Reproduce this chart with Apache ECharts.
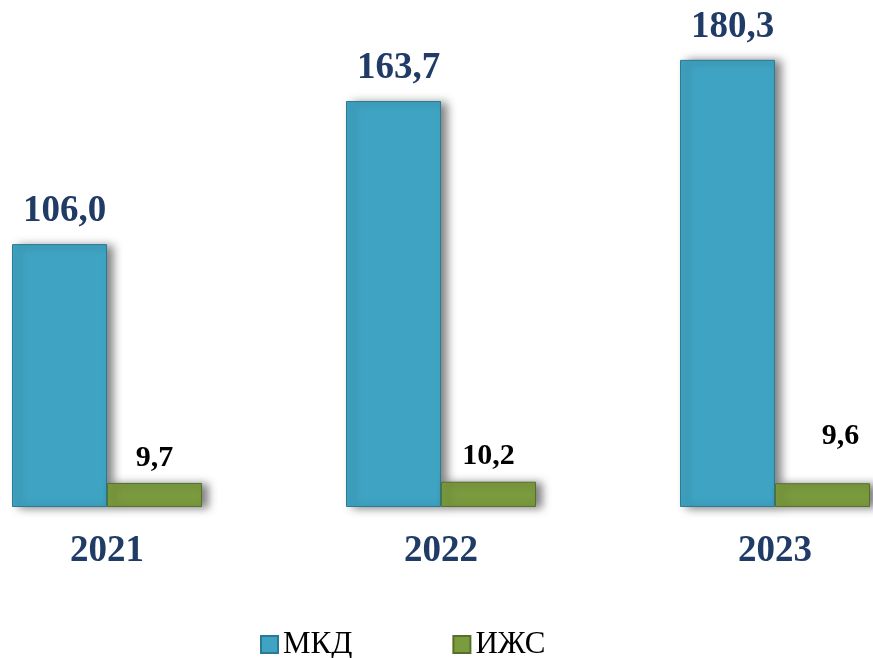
<!DOCTYPE html>
<html>
<head>
<meta charset="utf-8">
<script src="https://cdn.jsdelivr.net/npm/echarts@6/dist/echarts.min.js"></script>
<style>html,body{margin:0;padding:0;background:#fff}#c{width:873px;height:658px}</style>
</head>
<body>
<div id="c"></div>
<script>
const categories = ['2021', '2022', '2023'];
const seriesNames = ['МКД', 'ИЖС'];
const mkdValues = [106.0, 163.7, 180.3];
const izhsValues = [9.7, 10.2, 9.6];

const fmt = p => p.value.toFixed(1).replace('.', ',');
const chart = echarts.init(document.getElementById('c'));
const barShadow = {shadowColor: 'rgba(0,0,0,0.5)', shadowBlur: 9, shadowOffsetX: 6, shadowOffsetY: 1};
chart.setOption({
  animation: false,
  backgroundColor: '#ffffff',
  grid: {left: -60, right: -69, top: 11, bottom: 151, containLabel: false, outerBoundsMode: 'none'},
  legend: {
    data: seriesNames,
    top: 624,
    left: 255,
    icon: 'rect',
    itemWidth: 17, itemHeight: 17, itemGap: 100,
    textStyle: {fontFamily: 'Liberation Serif', fontSize: 31, color: '#000'}
  },
  xAxis: {
    type: 'category', data: categories,
    axisLine: {show: false}, axisTick: {show: false},
    axisLabel: {fontFamily: 'Liberation Serif', fontWeight: 'bold', fontSize: 37, color: '#1F3B66', margin: 26}
  },
  yAxis: {type: 'value', min: 0, max: 200, show: false, splitLine: {show: false}},
  series: [
    {
      name: seriesNames[0], type: 'bar', data: mkdValues,
      barWidth: 95, barGap: '0%', barCategoryGap: '43%',
      itemStyle: Object.assign({color: '#3FA4C3', borderColor: '#2B7A93', borderWidth: 1}, barShadow),
      label: {show: true, position: 'top', distance: 14, offset: [5, 0], formatter: fmt,
        fontFamily: 'Liberation Serif', fontWeight: 'bold', fontSize: 37, color: '#1F3B66'}
    },
    {
      name: seriesNames[1], type: 'bar', data: izhsValues.map((v, i) => i === 2 ? {value: v, label: {offset: [18, -22]}} : v),
      barWidth: 95,
      itemStyle: Object.assign({color: '#7B9B3F', borderColor: '#56702A', borderWidth: 1}, barShadow),
      label: {show: true, position: 'top', distance: 10, formatter: fmt,
        fontFamily: 'Liberation Serif', fontWeight: 'bold', fontSize: 30, color: '#000'}
    }
  ]
});
</script>
</body>
</html>
